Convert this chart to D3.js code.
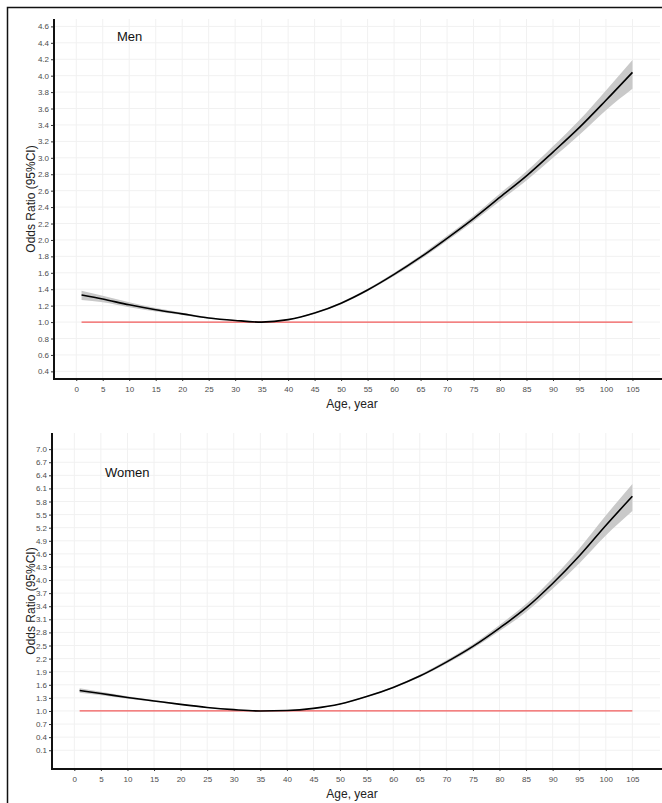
<!DOCTYPE html>
<html>
<head>
<meta charset="utf-8">
<script src="https://cdn.jsdelivr.net/npm/d3@7"></script>
<style>
  body { margin: 0; background: #fff; }
  svg { display: block; font-family: "Liberation Sans", Arial, sans-serif; }
  .tick text { fill: #4d4d4d; font-size: 8px; }
  .tick line { stroke: #333; }
  .domain { display: none; }
</style>
</head>
<body>
<svg id="chart" width="662" height="803"></svg>
<script>
const ages = [1, 5, 10, 15, 20, 25, 30, 35, 40, 45, 50, 55, 60, 65, 70, 75, 80, 85, 90, 95, 100, 105];

const menOR = [1.33, 1.28, 1.21, 1.15, 1.10, 1.05, 1.02, 1.00, 1.03, 1.11, 1.23, 1.39, 1.58, 1.79, 2.02, 2.26, 2.52, 2.78, 3.07, 3.37, 3.70, 4.04];
const menLo = [1.27, 1.24, 1.18, 1.13, 1.085, 1.04, 1.015, 0.997, 1.025, 1.10, 1.218, 1.375, 1.56, 1.765, 1.99, 2.225, 2.475, 2.725, 3.00, 3.28, 3.58, 3.84];
const menHi = [1.38, 1.32, 1.24, 1.17, 1.115, 1.06, 1.025, 1.003, 1.035, 1.12, 1.242, 1.405, 1.60, 1.815, 2.05, 2.295, 2.565, 2.835, 3.14, 3.46, 3.82, 4.19];

const womenOR = [1.47, 1.40, 1.31, 1.23, 1.15, 1.08, 1.03, 1.00, 1.01, 1.06, 1.16, 1.33, 1.54, 1.80, 2.12, 2.48, 2.90, 3.36, 3.92, 4.55, 5.25, 5.92];
const womenLo = [1.42, 1.36, 1.28, 1.21, 1.135, 1.07, 1.025, 0.997, 1.005, 1.053, 1.15, 1.315, 1.52, 1.77, 2.08, 2.43, 2.83, 3.27, 3.80, 4.38, 5.02, 5.58];
const womenHi = [1.52, 1.44, 1.34, 1.25, 1.165, 1.09, 1.035, 1.003, 1.015, 1.067, 1.17, 1.345, 1.56, 1.83, 2.16, 2.53, 2.97, 3.45, 4.04, 4.72, 5.48, 6.20];

const xTicks = [0, 5, 10, 15, 20, 25, 30, 35, 40, 45, 50, 55, 60, 65, 70, 75, 80, 85, 90, 95, 100, 105];
const menTicks = [0.4, 0.6, 0.8, 1.0, 1.2, 1.4, 1.6, 1.8, 2.0, 2.2, 2.4, 2.6, 2.8, 3.0, 3.2, 3.4, 3.6, 3.8, 4.0, 4.2, 4.4, 4.6];
const womenTicks = [0.1, 0.4, 0.7, 1.0, 1.3, 1.6, 1.9, 2.2, 2.5, 2.8, 3.1, 3.4, 3.7, 4.0, 4.3, 4.6, 4.9, 5.2, 5.5, 5.8, 6.1, 6.4, 6.7, 7.0];

const svg = d3.select("#chart");

// outer frame
svg.append("path")
  .attr("d", "M7.5,803 L7.5,7.5 L662,7.5")
  .attr("fill", "none")
  .attr("stroke", "#111")
  .attr("stroke-width", 1.5);

function drawPanel(opt) {
  const g = svg.append("g");
  const x = d3.scaleLinear().domain([-4.2, 110.2]).range([opt.left, 660]);
  const y = d3.scaleLinear().domain(opt.yDomain).range([opt.bottom, opt.top]);

  // grid
  g.append("g").selectAll("line").data(xTicks).join("line")
    .attr("x1", d => x(d)).attr("x2", d => x(d))
    .attr("y1", opt.top).attr("y2", opt.bottom)
    .attr("stroke", "#f1f1f1");
  g.append("g").selectAll("line").data(opt.ticks).join("line")
    .attr("x1", opt.left).attr("x2", 660)
    .attr("y1", d => y(d)).attr("y2", d => y(d))
    .attr("stroke", "#f1f1f1");

  const pts = ages.map((a, i) => ({ a: a, v: opt.or[i], lo: opt.lo[i], hi: opt.hi[i] }));

  // CI band
  g.append("path").datum(pts)
    .attr("d", d3.area().curve(d3.curveMonotoneX)
      .x(d => x(d.a)).y0(d => y(d.lo)).y1(d => y(d.hi)))
    .attr("fill", "#c9c9c9");

  // reference line at OR = 1
  g.append("line")
    .attr("x1", x(ages[0])).attr("x2", x(ages[ages.length - 1]))
    .attr("y1", y(1)).attr("y2", y(1))
    .attr("stroke", "#f25a5a")
    .attr("stroke-width", 1.2);

  // fitted curve
  g.append("path").datum(pts)
    .attr("d", d3.line().curve(d3.curveMonotoneX).x(d => x(d.a)).y(d => y(d.v)))
    .attr("fill", "none")
    .attr("stroke", "#000")
    .attr("stroke-width", 1.6);

  // axes
  g.append("g")
    .attr("transform", "translate(0," + opt.bottom + ")")
    .call(d3.axisBottom(x).tickValues(xTicks).tickSize(2).tickPadding(5).tickFormat(d3.format("d")));
  g.append("g")
    .attr("transform", "translate(" + opt.left + ",0)")
    .call(d3.axisLeft(y).tickValues(opt.ticks).tickSize(3).tickPadding(2).tickFormat(d3.format(".1f")));

  g.append("line")
    .attr("x1", opt.left).attr("x2", opt.left)
    .attr("y1", opt.top).attr("y2", opt.bottom + 1)
    .attr("stroke", "#111").attr("stroke-width", 2);
  g.append("line")
    .attr("x1", opt.left - 1).attr("x2", 662)
    .attr("y1", opt.bottom).attr("y2", opt.bottom)
    .attr("stroke", "#111").attr("stroke-width", 2);

  // titles
  g.append("text")
    .attr("x", 352).attr("y", opt.bottom + 29)
    .attr("text-anchor", "middle")
    .attr("font-size", 12)
    .attr("fill", "#222")
    .text("Age, year");
  g.append("text")
    .attr("transform", "translate(35," + ((opt.top + opt.bottom) / 2) + ") rotate(-90)")
    .attr("text-anchor", "middle")
    .attr("font-size", 12)
    .attr("fill", "#222")
    .text("Odds Ratio (95%CI)");
  g.append("text")
    .attr("x", opt.labelX).attr("y", opt.labelY)
    .attr("font-size", 13)
    .attr("fill", "#111")
    .text(opt.label);
}

drawPanel({ label: "Men", labelX: 117, labelY: 41, left: 54, top: 19, bottom: 379,
  yDomain: [0.307, 4.69], ticks: menTicks, or: menOR, lo: menLo, hi: menHi });
drawPanel({ label: "Women", labelX: 105, labelY: 477, left: 52, top: 433, bottom: 769,
  yDomain: [-0.33, 7.37], ticks: womenTicks, or: womenOR, lo: womenLo, hi: womenHi });
</script>
</body>
</html>
